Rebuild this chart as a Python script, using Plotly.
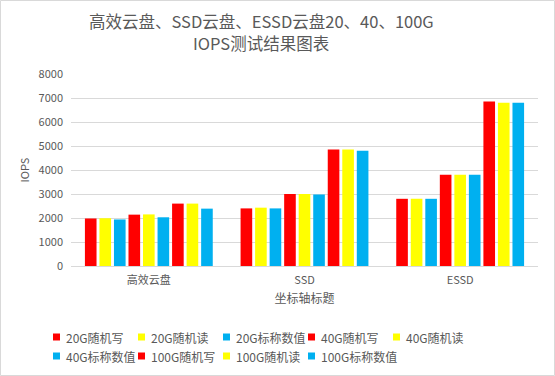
import plotly.graph_objects as go

categories = ["高效云盘", "SSD", "ESSD"]
series_names = ["20G随机写", "20G随机读", "20G标称数值", "40G随机写", "40G随机读",
                "40G标称数值", "100G随机写", "100G随机读", "100G标称数值"]
v_20g_write = [1980, 2400, 2800]
v_20g_read = [1990, 2430, 2800]
v_20g_nominal = [1940, 2400, 2800]
v_40g_write = [2140, 3000, 3800]
v_40g_read = [2150, 3000, 3800]
v_40g_nominal = [2030, 2980, 3800]
v_100g_write = [2600, 4850, 6850]
v_100g_read = [2600, 4850, 6800]
v_100g_nominal = [2390, 4800, 6800]
series_values = [v_20g_write, v_20g_read, v_20g_nominal, v_40g_write, v_40g_read,
                 v_40g_nominal, v_100g_write, v_100g_read, v_100g_nominal]
colors = ["#ff0000", "#ffff00", "#00b0f0"] * 3

FONT = "Noto Sans CJK SC, Microsoft YaHei, sans-serif"
TXT = "#595959"
W, H = 555, 376
L, R, T, B = 71, 17, 74, 110
pw, ph = W - L - R, H - T - B

fig = go.Figure()
for name, vals, c in zip(series_names, series_values, colors):
    fig.add_trace(go.Bar(x=categories, y=vals, name=name, marker_color=c,
                         marker_line_width=0, showlegend=False))

def px_x(p):
    return (p - L) / pw

def px_y(p):
    return (H - B - p) / ph

fig.update_layout(
    width=W, height=H,
    margin=dict(l=L, r=R, t=T, b=B, autoexpand=False),
    paper_bgcolor="white", plot_bgcolor="white",
    font=dict(family=FONT, color=TXT, size=11),
    barmode="group", bargap=0.16, bargroupgap=0.2,
    xaxis=dict(showgrid=False, showline=True, linecolor="#d9d9d9", ticks="",
               tickfont=dict(size=11, color=TXT), ticklabelstandoff=4,
               title=dict(text="坐标轴标题", font=dict(size=12, color=TXT), standoff=8)),
    yaxis=dict(range=[0, 8000], dtick=1000, showgrid=True, gridcolor="#d9d9d9",
               zeroline=False, showline=False, ticks="", tickformat="d",
               tickfont=dict(size=11, color=TXT), ticklabelstandoff=7,
               title=dict(text="IOPS", font=dict(size=11, color=TXT), standoff=6)),
    showlegend=False,
)

# title (two lines)
title_lines = ["高效云盘、SSD云盘、ESSD云盘20、40、100G", "IOPS测试结果图表"]
for i, line in enumerate(title_lines):
    fig.add_annotation(text=line, xref="paper", yref="paper", x=px_x(261),
                       y=px_y(21 + 22 * i), xanchor="center", yanchor="middle", showarrow=False,
                       font=dict(size=16.5, color=TXT, family=FONT))

# legend: 5 entries per row, 85px columns
for i, (name, c) in enumerate(zip(series_names, colors)):
    col, row = i % 5, i // 5
    sx = 53 + 85 * col
    sy = 337 + 19 * row
    fig.add_shape(type="rect", xref="paper", yref="paper",
                  x0=px_x(sx), x1=px_x(sx + 7), y0=px_y(sy + 3.5), y1=px_y(sy - 3.5),
                  line=dict(width=0), fillcolor=c)
    fig.add_annotation(text=name, xref="paper", yref="paper", x=px_x(sx + 11),
                       y=px_y(sy), xanchor="left", yanchor="middle", showarrow=False,
                       font=dict(size=12, color=TXT, family=FONT))

# chart border
fig.add_shape(type="rect", xref="paper", yref="paper",
              x0=px_x(0.5), x1=px_x(554.5), y0=px_y(375.5), y1=px_y(0.5),
              line=dict(color="#d9d9d9", width=1), fillcolor="rgba(0,0,0,0)", layer="below")

fig.write_html("out.html", config={"displayModeBar": False},
               post_script="document.body.style.margin='0';document.body.style.overflow='hidden';")
